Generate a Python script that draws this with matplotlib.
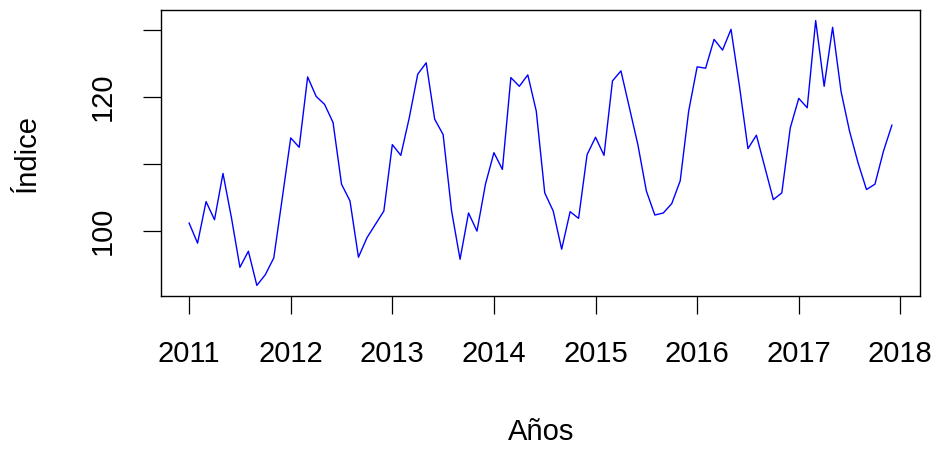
import matplotlib.pyplot as plt
import numpy as np

plt.rcParams['font.family'] = ['Liberation Sans', 'DejaVu Sans']

start_year = 2011
indice = [
    101.2, 98.2, 104.4, 101.7, 108.6, 102.0, 94.6, 97.0, 91.9, 93.5, 96.0, 104.9,
    113.9, 112.5, 123.0, 120.1, 118.9, 116.2, 107.0, 104.5, 96.1, 99.0, 101.0, 103.0,
    112.9, 111.3, 116.9, 123.4, 125.1, 116.7, 114.4, 103.0, 95.8, 102.7, 100.0, 107.0,
    111.7, 109.2, 122.9, 121.6, 123.3, 117.9, 105.7, 103.0, 97.3, 102.9, 101.9, 111.4,
    114.0, 111.3, 122.4, 123.9, 118.4, 112.9, 106.0, 102.4, 102.7, 104.1, 107.5, 117.9,
    124.5, 124.3, 128.6, 127.0, 130.1, 121.6, 112.3, 114.3, 109.5, 104.7, 105.7, 115.4,
    119.8, 118.4, 131.4, 121.6, 130.4, 120.8, 114.9, 110.2, 106.2, 107.0, 111.9, 115.8,
]
x_ticks = [2011, 2012, 2013, 2014, 2015, 2016, 2017, 2018]
y_ticks = [100, 110, 120, 130]
y_labels = ['100', '', '120', '']

t = start_year + np.arange(len(indice)) / 12.0

fig = plt.figure(figsize=(9.38, 4.49), dpi=100)
ax = fig.add_axes([161 / 938, 1 - 296 / 449, (920 - 161) / 938, (296 - 10) / 449])

ax.plot(t, indice, color='#0000ff', linewidth=1.0)

span = t[-1] - t[0]
ax.set_xlim(t[0] - 0.04 * span, t[-1] + 0.04 * span)
lo, hi = min(indice), max(indice)
ax.set_ylim(lo - 0.04 * (hi - lo), hi + 0.04 * (hi - lo))

ax.set_xticks(x_ticks)
ax.set_xticklabels([str(v) for v in x_ticks], fontsize=21)
ax.set_yticks(y_ticks)
ax.set_yticklabels(y_labels, fontsize=21, rotation=90, va='center')
ax.tick_params(length=13, width=0.9, color='black', pad=19)

for s in ax.spines.values():
    s.set_linewidth(1.0)
    s.set_color('black')

fig.text(541 / 938, 1 - 432 / 449, 'Años', fontsize=21, ha='center', va='center')
fig.text(27 / 938, 1 - 153 / 449, 'Índice', fontsize=21, ha='center', va='center', rotation=90)

fig.savefig('out.png', dpi=100)
